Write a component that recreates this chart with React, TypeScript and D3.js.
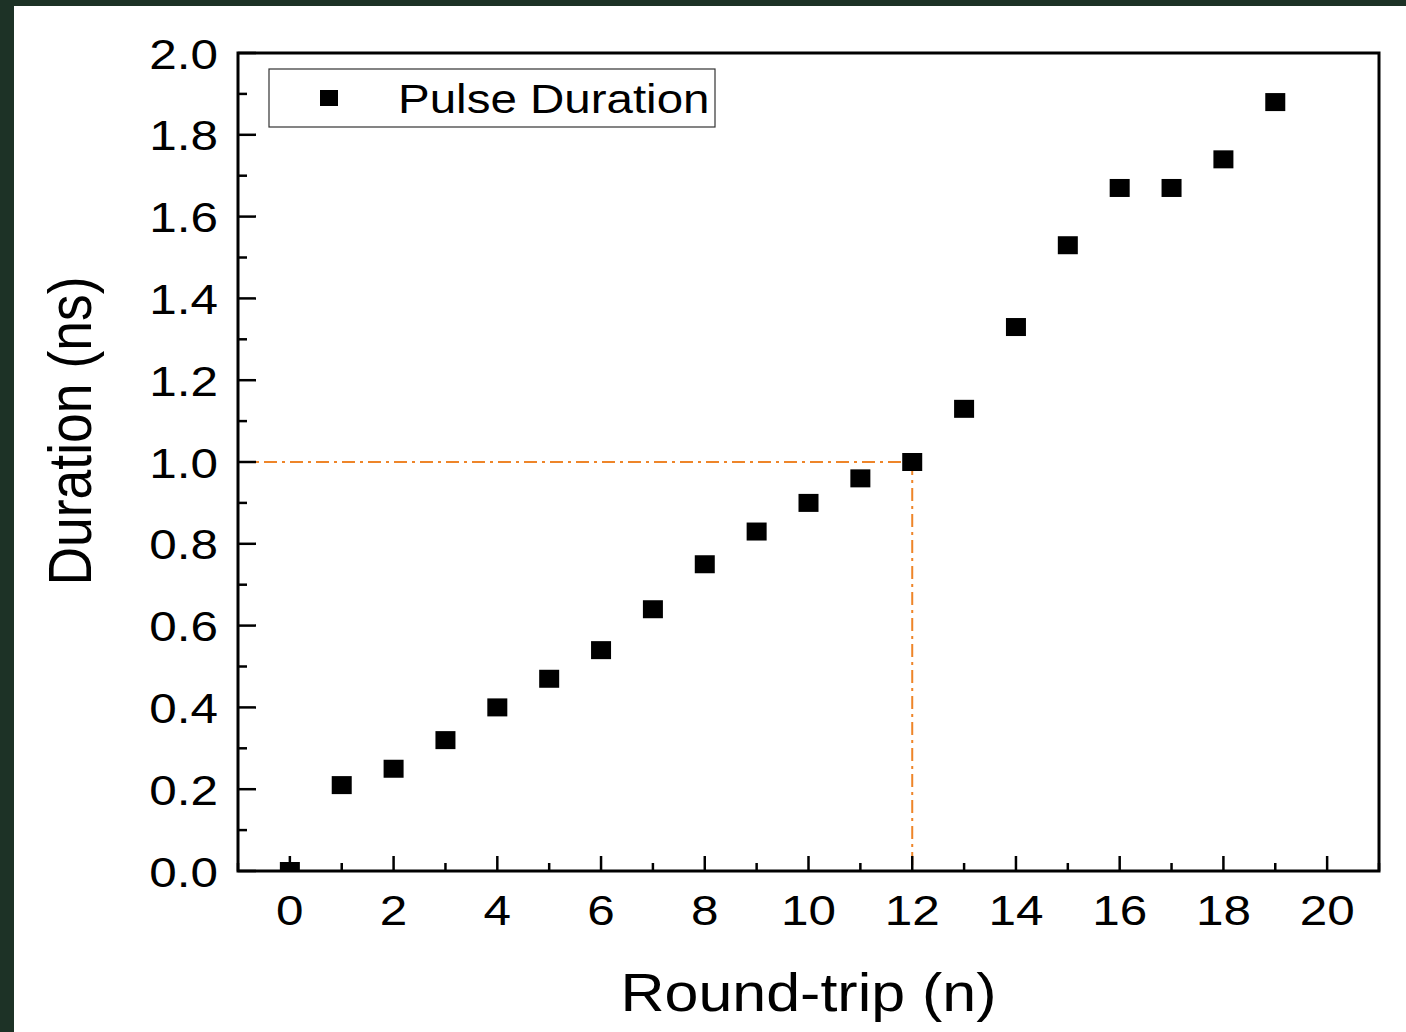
import React from "react";
import * as d3 from "d3";

const roundTrips = [0, 1, 2, 3, 4, 5, 6, 7, 8, 9, 10, 11, 12, 13, 14, 15, 16, 17, 18, 19];
const durations = [0.0, 0.21, 0.25, 0.32, 0.4, 0.47, 0.54, 0.64, 0.75, 0.83, 0.9, 0.96, 1.0, 1.13, 1.33, 1.53, 1.67, 1.67, 1.74, 1.88];
const xTicks = [0, 2, 4, 6, 8, 10, 12, 14, 16, 18, 20];
const xMinor = [-1, 1, 3, 5, 7, 9, 11, 13, 15, 17, 19, 21];
const yTicks = [0, 0.2, 0.4, 0.6, 0.8, 1.0, 1.2, 1.4, 1.6, 1.8, 2.0];
const yMinor = [0.1, 0.3, 0.5, 0.7, 0.9, 1.1, 1.3, 1.5, 1.7, 1.9];
const refPoint = { x: 12, y: 1.0 };
const seriesName = "Pulse Duration";
const xTitle = "Round-trip (n)";
const yTitle = "Duration (ns)";

const W = 1406, H = 1032;
const L = 238, R = 1379, T = 53, B = 871;
const SX = 1.15;
const FONT = "'Liberation Sans', Arial, sans-serif";

export default function App() {
  const x = d3.scaleLinear().domain([-1, 21]).range([L, R]);
  const y = d3.scaleLinear().domain([0, 2]).range([B, T]);
  const orange = "#ee8529";
  return (
    <svg width={W} height={H} style={{ position: "absolute", left: 0, top: 0 }} fontFamily={FONT}>
      <rect x={0} y={0} width={W} height={H} fill="#1d3226" />
      <rect x={14} y={6} width={W - 14} height={H - 6} fill="#ffffff" />
      <defs>
        <clipPath id="plot">
          <rect x={L} y={T} width={R - L} height={B - T} />
        </clipPath>
      </defs>
      {/* reference lines */}
      <g stroke={orange} strokeWidth={2} strokeDasharray="13,5,3,5" fill="none">
        <line x1={x(-1)} x2={x(refPoint.x)} y1={y(refPoint.y)} y2={y(refPoint.y)} />
        <line x1={x(refPoint.x)} x2={x(refPoint.x)} y1={y(refPoint.y)} y2={y(0)} />
      </g>
      {/* points */}
      <g clipPath="url(#plot)">
        {roundTrips.map((n, i) => (
          <rect key={n} x={x(n) - 10} y={y(durations[i]) - 9} width={20} height={18} fill="#000" />
        ))}
      </g>
      {/* ticks */}
      <g stroke="#000" strokeWidth={2.5}>
        {yTicks.map((t) => (
          <line key={"ym" + t} x1={L} x2={L + 18} y1={y(t)} y2={y(t)} />
        ))}
        {yMinor.map((t) => (
          <line key={"yn" + t} x1={L} x2={L + 9} y1={y(t)} y2={y(t)} />
        ))}
        {xTicks.map((t) => (
          <line key={"xm" + t} x1={x(t)} x2={x(t)} y1={B} y2={B - 15} />
        ))}
        {xMinor.map((t) => (
          <line key={"xn" + t} x1={x(t)} x2={x(t)} y1={B} y2={B - 8} />
        ))}
      </g>
      {/* frame */}
      <rect x={L} y={T} width={R - L} height={B - T} fill="none" stroke="#000" strokeWidth={3} />
      {/* tick labels */}
      <g fontSize={43} fill="#000">
        {yTicks.map((t) => (
          <text key={"yl" + t} transform={`translate(${L - 20},${y(t) + 15.5}) scale(${SX},1)`} textAnchor="end">
            {t.toFixed(1)}
          </text>
        ))}
        {xTicks.map((t) => (
          <text key={"xl" + t} transform={`translate(${x(t)},${925}) scale(${SX},1)`} textAnchor="middle">
            {t}
          </text>
        ))}
      </g>
      {/* axis titles */}
      <text transform={`translate(${(L + R) / 2},1011) scale(${SX},1)`} textAnchor="middle" fontSize={53}>
        {xTitle}
      </text>
      <text transform={`translate(91,431) scale(${SX},1) rotate(-90)`} textAnchor="middle" fontSize={53.5}>
        {yTitle}
      </text>
      {/* legend */}
      <rect x={269} y={69} width={446} height={58} fill="#fff" stroke="#333" strokeWidth={1.2} />
      <rect x={320} y={90} width={18} height={16} fill="#000" />
      <text transform={`translate(398,113) scale(${SX},1)`} fontSize={41.3}>
        {seriesName}
      </text>
    </svg>
  );
}
